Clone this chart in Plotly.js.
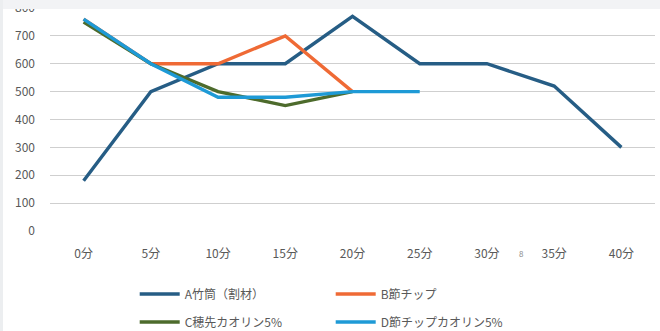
<!DOCTYPE html>
<html>
<head>
<meta charset="utf-8">
<script src="https://cdn.plot.ly/plotly-3.0.1.min.js"></script>
<style>
  html, body { margin: 0; padding: 0; background: #ffffff; }
  #wrap { position: relative; width: 660px; height: 331px; overflow: hidden; }
  #chart { position: absolute; left: 0; top: 0; width: 660px; height: 331px; }
  #topband { position: absolute; left: 0; top: 0; width: 660px; height: 9px; background: #f2f3f5; }
  #leftedge { position: absolute; left: 0; top: 0; width: 3px; height: 331px; background: #eceef0; }
</style>
</head>
<body>
<div id="wrap">
  <div id="chart"></div>
  <div id="topband"></div>
  <div id="leftedge"></div>
</div>
<script>
// elapsed time categories
const categories = ['0分', '5分', '10分', '15分', '20分', '25分', '30分', '35分', '40分'];

// series values (null = not measured)
const seriesA = [180, 500, 600, 600, 770, 600, 600, 520, 300];
const seriesB = [760, 600, 600, 700, 500, null, null, null, null];
const seriesC = [750, 600, 500, 450, 500, null, null, null, null];
const seriesD = [760, 600, 480, 480, 500, 500, null, null, null];

const names = ['A竹筒（割材）', 'B節チップ', 'C穂先カオリン5%', 'D節チップカオリン5%'];
const colors = ['#265d85', '#ef6a35', '#4d6b2c', '#1e9ad6'];
const legendIds = ['legend', 'legend', 'legend2', 'legend2'];

const yTicks = [0, 100, 200, 300, 400, 500, 600, 700, 800];

const fontFamily = '"Noto Sans CJK JP", "Liberation Sans", sans-serif';
const textColor = '#595959';

const traces = [seriesA, seriesB, seriesC, seriesD].map((vals, i) => ({
  type: 'scatter',
  mode: 'lines',
  x: categories,
  y: vals,
  name: names[i],
  legend: legendIds[i],
  line: { color: colors[i], width: 3.4 },
  connectgaps: false,
  hoverinfo: 'skip'
}));

const legendCommon = {
  orientation: 'h',
  xref: 'paper', yref: 'paper',
  xanchor: 'left', yanchor: 'middle',
  font: { family: fontFamily, size: 12, color: textColor },
  bgcolor: 'rgba(0,0,0,0)',
  itemwidth: 40,
  entrywidth: 141,
  entrywidthmode: 'pixels',
  traceorder: 'normal',
  itemclick: false,
  itemdoubleclick: false
};

const layout = {
  width: 660,
  height: 331,
  margin: { l: 50, r: 5, t: 8, b: 100, autoexpand: false },
  paper_bgcolor: '#ffffff',
  plot_bgcolor: '#ffffff',
  font: { family: fontFamily, size: 12, color: textColor },
  showlegend: true,
  xaxis: {
    type: 'category',
    categoryorder: 'array',
    categoryarray: categories,
    range: [-0.5, categories.length - 0.5],
    showgrid: false,
    zeroline: false,
    showline: false,
    ticks: '',
    automargin: false,
    ticklabelstandoff: 14,
    tickfont: { family: fontFamily, size: 12, color: textColor }
  },
  yaxis: {
    range: [0, 800],
    tickmode: 'array',
    tickvals: yTicks,
    ticktext: yTicks.map(String),
    showgrid: true,
    gridcolor: '#cfcfcf',
    gridwidth: 1,
    zeroline: false,
    showline: false,
    ticks: '',
    automargin: false,
    ticklabeloverflow: 'allow',
    ticklabelstandoff: 14,
    tickfont: { family: fontFamily, size: 12, color: textColor }
  },
  legend: Object.assign({}, legendCommon, { x: 0.14, y: -0.2825 }),
  legend2: Object.assign({}, legendCommon, { x: 0.14, y: -0.408 }),
  annotations: [
    {
      text: '8',
      xref: 'paper', yref: 'paper',
      x: 0.779, y: -0.099,
      xanchor: 'center', yanchor: 'middle',
      showarrow: false,
      font: { family: fontFamily, size: 8, color: '#8a8a8a' }
    }
  ]
};

Plotly.newPlot('chart', traces, layout, { displayModeBar: false, staticPlot: true });
</script>
</body>
</html>
